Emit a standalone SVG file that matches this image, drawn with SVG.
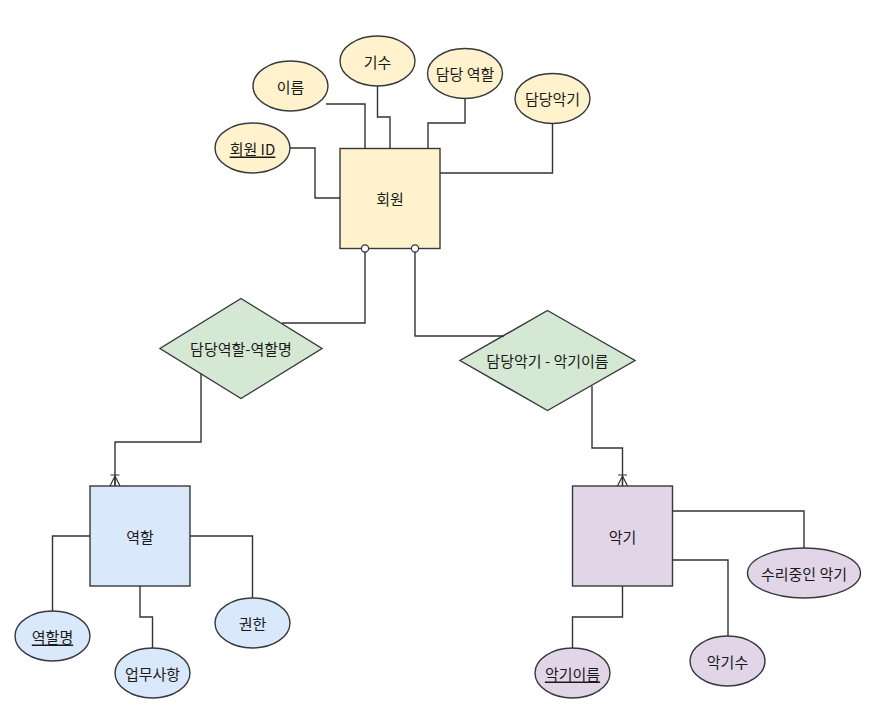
<svg xmlns="http://www.w3.org/2000/svg" width="887" height="723" viewBox="0 0 887 723">
<style>
  .ent { stroke: #36393d; stroke-width: 1.4; }
  .att { stroke: #36393d; stroke-width: 1.4; }
  .rel { fill: #d5e8d4; stroke: #36393d; stroke-width: 1.4; }
  .y { fill: #fff2cc; }
  .b { fill: #dae8fc; }
  .p { fill: #e1d5e7; }
  .lbl { font-family: "Noto Sans CJK KR", "Noto Sans", sans-serif; font-size: 15px; fill: #1a1a1a; text-anchor: middle; dominant-baseline: central; }
  .u { text-decoration: underline; }
  .c { fill: none; stroke: #333333; stroke-width: 1.4; }
</style>
<defs>
  <marker id="oval" viewBox="-5 -5 10 10" refX="0" refY="0" markerWidth="10" markerHeight="10" markerUnits="userSpaceOnUse" orient="auto">
    <circle cx="0" cy="0" r="3.6" fill="#ffffff" stroke="#333333" stroke-width="1.2"/>
  </marker>
  <marker id="onemany" viewBox="0 -7 12 14" refX="12" refY="0" markerWidth="12" markerHeight="14" markerUnits="userSpaceOnUse" orient="auto">
    <path d="M1,-4.5 V4.5 M2,0 L12,-5 M2,0 L12,0 M2,0 L12,5" fill="none" stroke="#333333" stroke-width="1.2"/>
  </marker>
</defs>
<rect width="887" height="723" fill="#ffffff"/>
<g id="member"><rect class="ent y" x="340" y="148.5" width="100" height="100"/><text class="lbl" x="390" y="198">회원</text></g>
<g id="member-id"><ellipse class="att y" cx="252.5" cy="148" rx="37.5" ry="25"/><text class="lbl u" x="252.5" y="148">회원 ID</text></g>
<g id="member-name"><ellipse class="att y" cx="290.5" cy="86" rx="37.5" ry="25"/><text class="lbl" x="290.5" y="86">이름</text></g>
<g id="member-gen"><ellipse class="att y" cx="377.5" cy="61" rx="37.5" ry="25"/><text class="lbl" x="377.5" y="61">기수</text></g>
<g id="member-role"><ellipse class="att y" cx="465" cy="73.5" rx="37.5" ry="25"/><text class="lbl" x="465" y="73.5">담당 역할</text></g>
<g id="member-inst"><ellipse class="att y" cx="552.5" cy="98.5" rx="37.5" ry="25"/><text class="lbl" x="552.5" y="98.5">담당악기</text></g>
<g id="rel-role"><polygon class="rel" points="241,298.5 322,348.5 241,398.5 160,348.5"/><text class="lbl" x="241" y="348.5">담당역할-역할명</text></g>
<g id="rel-inst"><polygon class="rel" points="547.5,310.5 635,360.5 547.5,410.5 460,360.5"/><text class="lbl" x="547.5" y="360.5">담당악기 - 악기이름</text></g>
<g id="role"><rect class="ent b" x="90" y="486" width="100" height="100"/><text class="lbl" x="140" y="536">역할</text></g>
<g id="role-name"><ellipse class="att b" cx="52.5" cy="636" rx="37.5" ry="25"/><text class="lbl u" x="52.5" y="636">역할명</text></g>
<g id="role-duty"><ellipse class="att b" cx="152.5" cy="673" rx="37.5" ry="25"/><text class="lbl" x="152.5" y="673">업무사항</text></g>
<g id="role-auth"><ellipse class="att b" cx="252.5" cy="623" rx="37.5" ry="25"/><text class="lbl" x="252.5" y="623">권한</text></g>
<g id="inst"><rect class="ent p" x="572.5" y="486" width="100" height="100"/><text class="lbl" x="622.5" y="536">악기</text></g>
<g id="inst-repair"><ellipse class="att p" cx="804" cy="573" rx="56.5" ry="25"/><text class="lbl" x="804" y="573">수리중인 악기</text></g>
<g id="inst-count"><ellipse class="att p" cx="727.5" cy="661" rx="37.5" ry="25"/><text class="lbl" x="727.5" y="661">악기수</text></g>
<g id="inst-name"><ellipse class="att p" cx="572.5" cy="673" rx="37.5" ry="25"/><text class="lbl u" x="572.5" y="673">악기이름</text></g>
<g id="connectors">
  <path class="c" d="M290,148 H315 V198 H340"/>
  <path class="c" d="M326,104 H365 V148.5"/>
  <path class="c" d="M377.5,86 V117 H390 V148.5"/>
  <path class="c" d="M465,98.5 V123 H428 V148.5"/>
  <path class="c" d="M552.5,123.5 V173 H440"/>
  <path class="c" d="M365,248.5 V323 H282" marker-start="url(#oval)"/>
  <path class="c" d="M415,248.5 V336 H504" marker-start="url(#oval)"/>
  <path class="c" d="M201,373 V442 H115 V486" marker-end="url(#onemany)"/>
  <path class="c" d="M592,386 V448 H622.5 V486" marker-end="url(#onemany)"/>
  <path class="c" d="M90,536 H52.5 V611"/>
  <path class="c" d="M140,586 V617 H152.5 V648"/>
  <path class="c" d="M190,536 H252.5 V598"/>
  <path class="c" d="M672.5,511 H804 V548"/>
  <path class="c" d="M672.5,560 H728 V636"/>
  <path class="c" d="M622.5,586 V617 H572.5 V648"/>
</g>
</svg>
